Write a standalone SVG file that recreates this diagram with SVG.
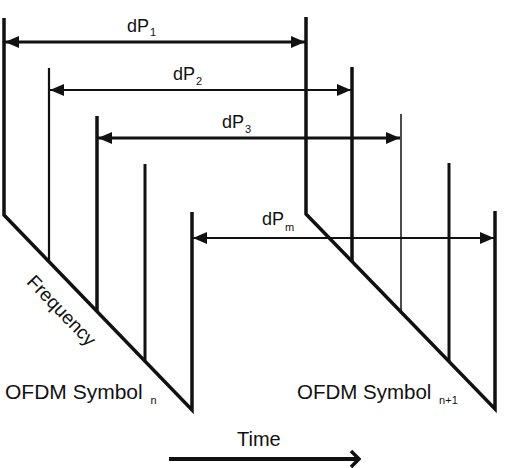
<svg xmlns="http://www.w3.org/2000/svg" width="511" height="468" viewBox="0 0 511 468">
<style>
.ln{stroke:#111;fill:none;stroke-linecap:butt;stroke-linejoin:miter}
.t{font-family:"Liberation Sans",Arial,sans-serif;fill:#111}
.sub{font-size:11px}
</style>
<defs>
<marker id="ah" markerUnits="userSpaceOnUse" markerWidth="14" markerHeight="12" refX="14" refY="6" orient="auto-start-reverse" viewBox="0 0 14 12">
<path d="M0,0 L14,6 L0,12 z" fill="#111"/>
</marker>
<marker id="open" markerUnits="userSpaceOnUse" markerWidth="12" markerHeight="20" refX="10" refY="10" orient="auto" viewBox="0 0 12 20">
<path d="M2,2 L10,10 L2,18" fill="none" stroke="#111" stroke-width="3.5"/>
</marker>
</defs>
<rect width="511" height="468" fill="#fff"/>
<g id="symbol-n">
<path class="ln" d="M4,18 L4,215 L192,410 L192,212" stroke-width="3.5"/>
<line class="ln" x1="49" y1="68" x2="49" y2="262" stroke-width="2.2"/>
<line class="ln" x1="97" y1="116" x2="97" y2="312" stroke-width="3.5"/>
<line class="ln" x1="145" y1="164" x2="145" y2="362" stroke-width="3"/>
<text class="t" x="5" y="399" font-size="21">OFDM Symbol <tspan class="sub" dx="2" dy="5">n</tspan></text>
<text class="t" font-size="19" text-anchor="middle" transform="translate(57,315) rotate(46)">Frequency</text>
</g>
<g id="symbol-n1">
<path class="ln" d="M306,17 L306,214 L495,409 L495,211" stroke-width="3.5"/>
<line class="ln" x1="352" y1="67" x2="352" y2="261" stroke-width="3.5"/>
<line class="ln" x1="401" y1="114" x2="401" y2="312" stroke-width="1.5"/>
<line class="ln" x1="449" y1="163" x2="449" y2="361" stroke-width="3"/>
<text class="t" x="297" y="399" font-size="20.5">OFDM Symbol <tspan class="sub" dx="2" dy="5">n+1</tspan></text>
</g>
<g id="connectors">
<line class="ln" x1="5" y1="42" x2="305" y2="42" stroke-width="3" marker-start="url(#ah)" marker-end="url(#ah)"/>
<line class="ln" x1="50" y1="90" x2="351" y2="90" stroke-width="2" marker-start="url(#ah)" marker-end="url(#ah)"/>
<line class="ln" x1="98" y1="138" x2="400" y2="138" stroke-width="3" marker-start="url(#ah)" marker-end="url(#ah)"/>
<line class="ln" x1="193" y1="238" x2="494" y2="238" stroke-width="2" marker-start="url(#ah)" marker-end="url(#ah)"/>
<line class="ln" x1="169" y1="459" x2="359" y2="459" stroke-width="4" marker-end="url(#open)"/>
</g>
<g id="labels">
<text class="t" x="127" y="32" font-size="18">dP<tspan class="sub" dx="1" dy="4">1</tspan></text>
<text class="t" x="173" y="80" font-size="18">dP<tspan class="sub" dx="1" dy="5">2</tspan></text>
<text class="t" x="222" y="128" font-size="18">dP<tspan class="sub" dx="1" dy="5">3</tspan></text>
<text class="t" x="262" y="225" font-size="18">dP<tspan class="sub" dx="1" dy="6">m</tspan></text>
<text class="t" x="237" y="446" font-size="20">Time</text>
</g>
</svg>
